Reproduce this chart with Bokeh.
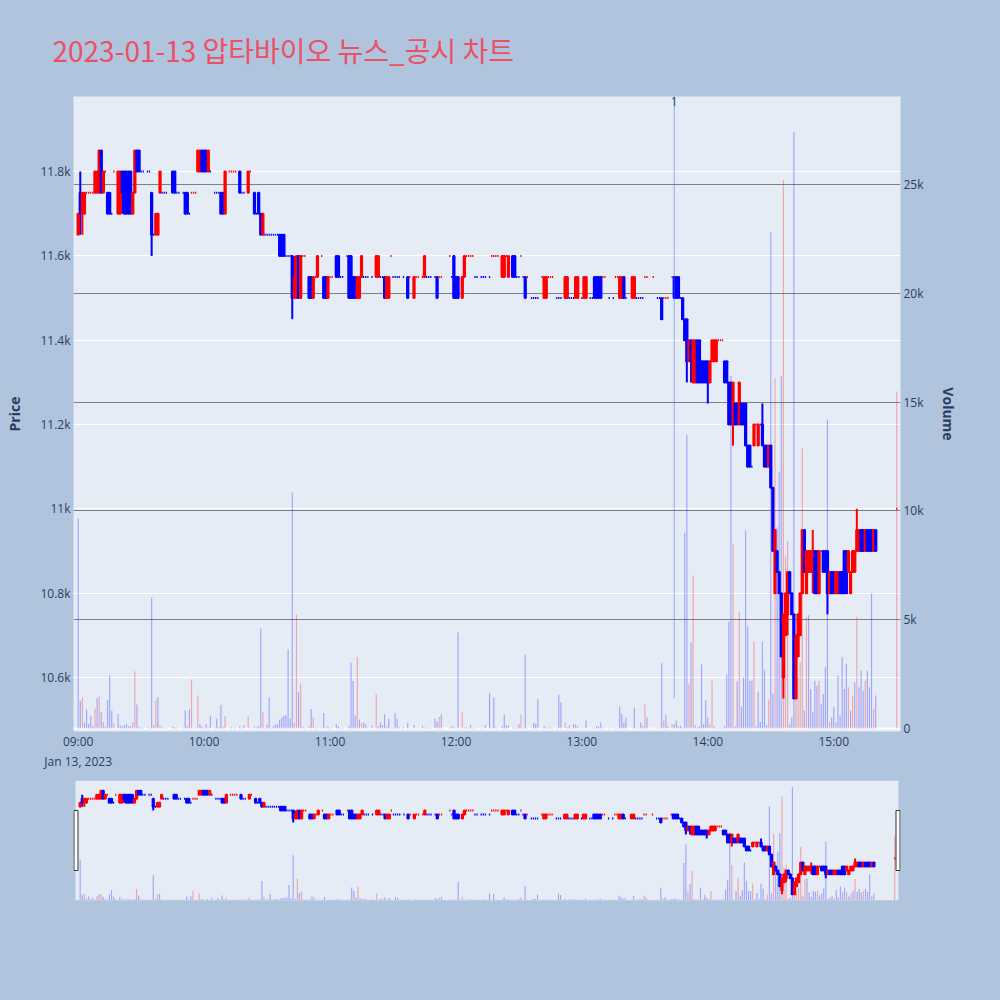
import numpy as np
import pandas as pd
from bokeh.plotting import figure
from bokeh.layouts import column
from bokeh.models import (ColumnDataSource, Range1d, LinearAxis, FixedTicker,
                          Grid, Span, Label)
from bokeh.embed import file_html
from bokeh.resources import INLINE

TITLE = "2023-01-13 압타바이오 뉴스_공시 차트"
SESSION_START = "2023-01-13 09:00"

# one-minute candles, 09:00 .. 15:20 (volume 0 = no trade in that minute)
open_ = [
    11650, 11750, 11700, 11700, 11750, 11750, 11750, 11750, 11750, 11750,
    11750, 11850, 11750, 11800, 11750, 11750, 11700, 11800, 11800, 11700,
    11700, 11800, 11800, 11800, 11800, 11800, 11700, 11750, 11850, 11850,
    11800, 11800, 11800, 11800, 11800, 11750, 11650, 11650, 11650, 11750,
    11750, 11750, 11750, 11750, 11750, 11800, 11800, 11750, 11750, 11750,
    11750, 11750, 11750, 11700, 11750, 11750, 11750, 11800, 11800, 11850,
    11850, 11850, 11800, 11800, 11800, 11750, 11750, 11750, 11750, 11750,
    11700, 11800, 11800, 11800, 11800, 11800, 11800, 11800, 11750, 11750,
    11750, 11750, 11800, 11800, 11750, 11700, 11750, 11700, 11650, 11650,
    11650, 11650, 11650, 11650, 11650, 11650, 11650, 11650, 11650, 11600,
    11600, 11600, 11600, 11500, 11500, 11600, 11500, 11600, 11600, 11600,
    11550, 11550, 11500, 11550, 11550, 11600, 11600, 11550, 11550, 11500,
    11550, 11550, 11550, 11600, 11600, 11550, 11550, 11550, 11600, 11600,
    11600, 11550, 11550, 11500, 11500, 11550, 11550, 11550, 11550, 11550,
    11550, 11550, 11550, 11550, 11550, 11550, 11550, 11500, 11500, 11600,
    11550, 11550, 11550, 11550, 11550, 11550, 11550, 11550, 11550, 11550,
    11500, 11550, 11550, 11550, 11550, 11550, 11550, 11550, 11550, 11550,
    11550, 11550, 11550, 11550, 11550, 11550, 11550, 11600, 11550, 11600,
    11550, 11550, 11500, 11500, 11550, 11600, 11600, 11600, 11600, 11550,
    11550, 11550, 11550, 11550, 11550, 11550, 11550, 11600, 11600, 11600,
    11600, 11600, 11550, 11550, 11600, 11550, 11600, 11600, 11600, 11550,
    11550, 11600, 11550, 11550, 11550, 11550, 11500, 11500, 11500, 11500,
    11500, 11550, 11500, 11500, 11550, 11550, 11550, 11550, 11500, 11500,
    11500, 11500, 11500, 11500, 11500, 11500, 11500, 11500, 11500, 11500,
    11500, 11500, 11500, 11500, 11500, 11500, 11550, 11550, 11550, 11550,
    11550, 11550, 11550, 11500, 11500, 11500, 11550, 11550, 11500, 11500,
    11550, 11500, 11500, 11500, 11500, 11500, 11500, 11500, 11500, 11500,
    11550, 11550, 11550, 11550, 11550, 11550, 11500, 11500, 11500, 11500,
    11500, 11500, 11500, 11550, 11550, 11550, 11550, 11500, 11500, 11450,
    11450, 11350, 11400, 11300, 11300, 11400, 11400, 11350, 11350, 11350,
    11350, 11300, 11350, 11350, 11350, 11400, 11400, 11400, 11350, 11350,
    11300, 11300, 11200, 11250, 11250, 11200, 11250, 11250, 11250, 11150,
    11150, 11100, 11150, 11200, 11150, 11200, 11200, 11150, 11150, 11100,
    11150, 11050, 10800, 10900, 10850, 10800, 10600, 10700, 10750, 10850,
    10800, 10750, 10550, 10650, 10700, 10800, 10950, 10800, 10850, 10850,
    10850, 10900, 10900, 10800, 10900, 10900, 10900, 10900, 10800, 10850,
    10850, 10800, 10800, 10850, 10850, 10900, 10900, 10850, 10800, 10850,
    10850, 10900, 10900, 10950, 10950, 10900, 10950, 10950, 10950, 10900,
    10950,
]
high = [
    11700, 11800, 11750, 11750, 11750, 11750, 11750, 11750, 11800, 11800,
    11850, 11850, 11800, 11800, 11750, 11750, 11700, 11800, 11800, 11800,
    11800, 11800, 11800, 11800, 11800, 11800, 11750, 11850, 11850, 11850,
    11800, 11800, 11800, 11800, 11800, 11750, 11650, 11700, 11700, 11800,
    11750, 11750, 11750, 11750, 11750, 11800, 11800, 11750, 11750, 11750,
    11750, 11750, 11750, 11700, 11750, 11750, 11750, 11850, 11850, 11850,
    11850, 11850, 11850, 11800, 11800, 11750, 11750, 11750, 11750, 11750,
    11800, 11800, 11800, 11800, 11800, 11800, 11800, 11800, 11750, 11750,
    11750, 11800, 11800, 11800, 11750, 11700, 11750, 11700, 11700, 11650,
    11650, 11650, 11650, 11650, 11650, 11650, 11650, 11650, 11650, 11600,
    11600, 11600, 11600, 11600, 11600, 11600, 11600, 11600, 11600, 11600,
    11550, 11550, 11550, 11550, 11600, 11600, 11600, 11550, 11550, 11550,
    11550, 11550, 11550, 11600, 11600, 11550, 11550, 11550, 11600, 11600,
    11600, 11550, 11550, 11550, 11550, 11600, 11550, 11550, 11550, 11550,
    11550, 11550, 11600, 11600, 11550, 11550, 11550, 11550, 11550, 11600,
    11550, 11550, 11550, 11550, 11550, 11550, 11550, 11550, 11550, 11550,
    11550, 11550, 11550, 11550, 11550, 11600, 11550, 11550, 11550, 11550,
    11550, 11550, 11550, 11550, 11550, 11550, 11550, 11600, 11550, 11600,
    11550, 11550, 11500, 11550, 11600, 11600, 11600, 11600, 11600, 11550,
    11550, 11550, 11550, 11550, 11550, 11550, 11550, 11600, 11600, 11600,
    11600, 11600, 11600, 11600, 11600, 11600, 11600, 11600, 11600, 11550,
    11550, 11600, 11550, 11550, 11550, 11550, 11500, 11500, 11500, 11500,
    11500, 11550, 11550, 11550, 11550, 11550, 11550, 11550, 11500, 11500,
    11500, 11500, 11550, 11550, 11500, 11500, 11500, 11550, 11550, 11500,
    11500, 11550, 11550, 11500, 11500, 11500, 11550, 11550, 11550, 11550,
    11550, 11550, 11550, 11500, 11500, 11500, 11550, 11550, 11550, 11550,
    11550, 11500, 11500, 11500, 11550, 11550, 11500, 11500, 11500, 11500,
    11550, 11550, 11550, 11550, 11550, 11550, 11500, 11500, 11500, 11500,
    11500, 11500, 11500, 11550, 11550, 11550, 11550, 11500, 11500, 11450,
    11450, 11400, 11400, 11400, 11400, 11400, 11400, 11350, 11350, 11350,
    11350, 11350, 11400, 11400, 11400, 11400, 11400, 11400, 11350, 11350,
    11300, 11300, 11300, 11250, 11250, 11300, 11250, 11250, 11250, 11150,
    11150, 11100, 11200, 11200, 11200, 11200, 11250, 11150, 11150, 11150,
    11150, 11050, 10950, 10900, 10850, 10800, 10750, 10800, 10850, 10850,
    10800, 10750, 10700, 10750, 10800, 10950, 10950, 10900, 10900, 10900,
    10950, 10900, 10900, 10900, 10900, 10900, 10900, 10900, 10850, 10850,
    10850, 10850, 10850, 10850, 10850, 10900, 10900, 10900, 10850, 10900,
    10900, 11000, 10950, 10950, 10950, 10950, 10950, 10950, 10950, 10950,
    10950,
]
low = [
    11650, 11650, 11650, 11700, 11750, 11750, 11750, 11750, 11750, 11750,
    11750, 11750, 11750, 11800, 11700, 11700, 11700, 11800, 11800, 11700,
    11700, 11700, 11700, 11700, 11700, 11700, 11700, 11750, 11800, 11800,
    11800, 11800, 11800, 11800, 11800, 11600, 11650, 11650, 11650, 11750,
    11750, 11750, 11750, 11750, 11750, 11750, 11750, 11750, 11750, 11750,
    11750, 11700, 11700, 11700, 11750, 11750, 11750, 11800, 11800, 11800,
    11800, 11800, 11800, 11800, 11800, 11750, 11750, 11750, 11700, 11700,
    11700, 11800, 11800, 11800, 11800, 11800, 11800, 11750, 11750, 11750,
    11750, 11750, 11800, 11800, 11700, 11700, 11700, 11650, 11650, 11650,
    11650, 11650, 11650, 11650, 11650, 11650, 11600, 11600, 11600, 11600,
    11600, 11600, 11450, 11500, 11500, 11500, 11500, 11600, 11600, 11600,
    11500, 11500, 11500, 11550, 11550, 11600, 11600, 11500, 11500, 11500,
    11550, 11550, 11550, 11550, 11550, 11550, 11550, 11550, 11600, 11500,
    11500, 11500, 11500, 11500, 11500, 11550, 11550, 11550, 11550, 11550,
    11550, 11550, 11550, 11550, 11550, 11550, 11500, 11500, 11500, 11600,
    11550, 11550, 11550, 11550, 11550, 11550, 11550, 11500, 11550, 11550,
    11500, 11550, 11550, 11550, 11550, 11550, 11550, 11550, 11550, 11550,
    11550, 11500, 11550, 11550, 11550, 11550, 11550, 11600, 11550, 11500,
    11500, 11500, 11500, 11500, 11550, 11600, 11600, 11600, 11600, 11550,
    11550, 11550, 11550, 11550, 11550, 11550, 11550, 11600, 11600, 11600,
    11600, 11600, 11550, 11550, 11600, 11550, 11600, 11550, 11550, 11550,
    11550, 11600, 11550, 11500, 11550, 11550, 11500, 11500, 11500, 11500,
    11500, 11550, 11500, 11500, 11550, 11550, 11550, 11550, 11500, 11500,
    11500, 11500, 11500, 11500, 11500, 11500, 11500, 11500, 11500, 11500,
    11500, 11500, 11500, 11500, 11500, 11500, 11500, 11500, 11500, 11500,
    11550, 11550, 11550, 11500, 11500, 11500, 11550, 11550, 11500, 11500,
    11500, 11500, 11500, 11500, 11500, 11500, 11500, 11500, 11500, 11500,
    11550, 11550, 11550, 11550, 11550, 11550, 11500, 11500, 11450, 11500,
    11500, 11500, 11500, 11550, 11500, 11500, 11500, 11500, 11450, 11400,
    11300, 11350, 11300, 11300, 11300, 11300, 11300, 11300, 11300, 11300,
    11250, 11300, 11350, 11350, 11350, 11400, 11400, 11400, 11300, 11300,
    11200, 11200, 11150, 11200, 11200, 11200, 11200, 11200, 11150, 11100,
    11100, 11100, 11150, 11200, 11150, 11200, 11150, 11100, 11100, 11100,
    11050, 10900, 10800, 10850, 10800, 10650, 10550, 10700, 10700, 10800,
    10750, 10550, 10550, 10650, 10700, 10800, 10850, 10800, 10850, 10850,
    10800, 10800, 10800, 10800, 10900, 10850, 10850, 10750, 10800, 10800,
    10800, 10800, 10800, 10800, 10800, 10800, 10800, 10850, 10800, 10850,
    10850, 10900, 10900, 10900, 10900, 10900, 10900, 10900, 10900, 10900,
    10900,
]
close = [
    11700, 11700, 11750, 11750, 11750, 11750, 11750, 11750, 11800, 11800,
    11850, 11750, 11800, 11800, 11700, 11700, 11700, 11800, 11800, 11800,
    11800, 11750, 11700, 11700, 11700, 11700, 11750, 11850, 11800, 11800,
    11800, 11800, 11800, 11800, 11800, 11650, 11650, 11700, 11700, 11800,
    11750, 11750, 11750, 11750, 11750, 11750, 11750, 11750, 11750, 11750,
    11750, 11700, 11700, 11700, 11750, 11750, 11750, 11850, 11850, 11800,
    11800, 11800, 11850, 11800, 11800, 11750, 11750, 11750, 11700, 11700,
    11800, 11800, 11800, 11800, 11800, 11800, 11800, 11750, 11750, 11750,
    11750, 11800, 11800, 11800, 11700, 11700, 11700, 11650, 11700, 11650,
    11650, 11650, 11650, 11650, 11650, 11650, 11600, 11600, 11600, 11600,
    11600, 11600, 11500, 11550, 11600, 11500, 11600, 11600, 11600, 11600,
    11500, 11500, 11550, 11550, 11600, 11600, 11600, 11500, 11500, 11550,
    11550, 11550, 11550, 11550, 11550, 11550, 11550, 11550, 11600, 11500,
    11500, 11500, 11500, 11550, 11550, 11600, 11550, 11550, 11550, 11550,
    11550, 11550, 11600, 11600, 11550, 11550, 11500, 11550, 11550, 11600,
    11550, 11550, 11550, 11550, 11550, 11550, 11550, 11500, 11550, 11550,
    11550, 11550, 11550, 11550, 11550, 11600, 11550, 11550, 11550, 11550,
    11550, 11500, 11550, 11550, 11550, 11550, 11550, 11600, 11550, 11500,
    11500, 11500, 11500, 11550, 11600, 11600, 11600, 11600, 11600, 11550,
    11550, 11550, 11550, 11550, 11550, 11550, 11550, 11600, 11600, 11600,
    11600, 11600, 11600, 11600, 11600, 11600, 11600, 11550, 11550, 11550,
    11550, 11600, 11550, 11500, 11550, 11550, 11500, 11500, 11500, 11500,
    11500, 11550, 11550, 11550, 11550, 11550, 11550, 11550, 11500, 11500,
    11500, 11500, 11550, 11550, 11500, 11500, 11500, 11550, 11550, 11500,
    11500, 11550, 11550, 11500, 11500, 11500, 11500, 11500, 11500, 11500,
    11550, 11550, 11550, 11500, 11500, 11500, 11550, 11550, 11550, 11550,
    11500, 11500, 11500, 11500, 11550, 11550, 11500, 11500, 11500, 11500,
    11550, 11550, 11550, 11550, 11550, 11550, 11500, 11500, 11450, 11500,
    11500, 11500, 11500, 11550, 11500, 11500, 11500, 11500, 11450, 11400,
    11350, 11400, 11350, 11400, 11400, 11300, 11300, 11300, 11300, 11300,
    11300, 11350, 11400, 11400, 11400, 11400, 11400, 11400, 11300, 11300,
    11200, 11200, 11300, 11200, 11200, 11300, 11200, 11200, 11150, 11100,
    11100, 11100, 11200, 11200, 11200, 11200, 11150, 11100, 11100, 11150,
    11050, 10900, 10950, 10850, 10800, 10650, 10750, 10800, 10850, 10800,
    10750, 10550, 10700, 10750, 10800, 10950, 10850, 10900, 10900, 10900,
    10900, 10800, 10800, 10900, 10900, 10850, 10850, 10800, 10850, 10800,
    10800, 10850, 10850, 10800, 10800, 10800, 10800, 10900, 10850, 10900,
    10900, 10950, 10950, 10900, 10900, 10950, 10900, 10900, 10900, 10950,
    10900,
]
volume = [
    9650, 1290, 1425, 280, 870, 210, 560, 120, 910, 1390,
    1470, 750, 300, 100, 1310, 2430, 830, 240, 0, 680,
    150, 100, 150, 220, 100, 100, 300, 2630, 1100, 80,
    50, 40, 0, 60, 30, 6020, 150, 1290, 1440, 140,
    60, 40, 40, 0, 0, 80, 60, 40, 30, 0,
    50, 830, 100, 890, 2250, 40, 50, 1520, 200, 100,
    40, 200, 50, 560, 0, 50, 460, 60, 1090, 80,
    560, 0, 40, 60, 30, 40, 0, 100, 30, 160,
    0, 580, 50, 0, 100, 60, 120, 4590, 750, 30,
    170, 1440, 40, 100, 200, 180, 400, 500, 600, 600,
    3630, 450, 10850, 260, 5240, 1680, 2070, 80, 40, 0,
    100, 900, 530, 30, 60, 0, 50, 710, 60, 100,
    30, 30, 0, 200, 100, 30, 40, 0, 30, 100,
    3030, 2180, 600, 3280, 400, 250, 280, 180, 60, 0,
    140, 0, 1580, 100, 280, 160, 640, 100, 450, 30,
    40, 720, 450, 60, 0, 60, 0, 250, 30, 0,
    160, 30, 30, 0, 120, 60, 30, 30, 30, 0,
    450, 310, 530, 650, 0, 0, 0, 30, 100, 60,
    30, 4410, 0, 750, 40, 60, 30, 160, 30, 30,
    30, 0, 30, 30, 160, 0, 1620, 60, 1420, 60,
    30, 0, 100, 640, 150, 130, 0, 50, 30, 30,
    200, 640, 30, 3400, 30, 0, 30, 250, 220, 1340,
    0, 30, 100, 60, 30, 60, 30, 0, 30, 1550,
    1210, 0, 280, 60, 140, 30, 200, 200, 100, 0,
    30, 60, 370, 0, 30, 30, 30, 100, 100, 280,
    60, 30, 0, 30, 0, 30, 30, 30, 1010, 680,
    270, 490, 0, 0, 60, 970, 30, 30, 280, 120,
    1100, 520, 0, 0, 30, 0, 30, 30, 3000, 370,
    630, 100, 0, 200, 200, 370, 100, 120, 50, 9000,
    13500, 2070, 3950, 7030, 150, 60, 100, 2940, 200, 1290,
    500, 200, 2200, 100, 30, 30, 30, 30, 100, 2480,
    4900, 16200, 8500, 100, 2160, 5340, 1000, 2340, 9100, 4690,
    2200, 2200, 4000, 100, 1700, 300, 4000, 2700, 150, 1330,
    22800, 1600, 16100, 9240, 11800, 16200, 25200, 7900, 8600, 200,
    500, 27400, 1600, 2340, 3050, 12870, 830, 5120, 5200, 1820,
    750, 2200, 1980, 2200, 1130, 1590, 2820, 14200, 300, 520,
    975, 290, 2430, 600, 3280, 1820, 2970, 1900, 830, 1520,
    2130, 5120, 1900, 2670, 1750, 2200, 2670, 1900, 6200, 900,
    1520,
]

# closing single-price auction
auction_time = "2023-01-13 15:30"
auction_price = 11000
auction_volume = 15490

# disclosure marker
news_time = "2023-01-13 13:44"
news_text = "1"
news_anchor_volume = 1400

price_ticks = [10600, 10800, 11000, 11200, 11400, 11600, 11800]
price_tick_labels = ["10.6k", "10.8k", "11k", "11.2k", "11.4k", "11.6k", "11.8k"]
volume_ticks = [0, 5000, 10000, 15000, 20000, 25000]
volume_tick_labels = ["0", "5k", "10k", "15k", "20k", "25k"]
hour_labels = ["09:00\nJan 13, 2023", "10:00", "11:00", "12:00", "13:00", "14:00", "15:00"]

# view ranges (minutes after 09:00 / won / shares)
X_VIEW = (-2.23, 391.8)
PRICE_VIEW = (10472, 11978)
VOLUME_VIEW = (-138, 29044)

UP, DOWN = "#FF0000", "#0000FF"
PAGE_BG, PLOT_BG = "#B0C4DE", "#E5ECF6"
INK = "#2a3f5f"

n = len(open_)
assert all(len(a) == n for a in (high, low, close, volume))

t0 = pd.Timestamp(SESSION_START)
times = list(pd.date_range(SESSION_START, periods=n, freq="min")) + [pd.Timestamp(auction_time)]
df = pd.DataFrame({
    "time": times,
    "open": open_ + [auction_price],
    "high": high + [auction_price],
    "low": low + [auction_price],
    "close": close + [auction_price],
    "volume": volume + [auction_volume],
})
df = df[df["volume"] > 0].reset_index(drop=True)
df["x"] = (df["time"] - t0).dt.total_seconds() / 60.0

# candle direction: body first, then previous close, then previous direction
dirs = []
prev_c, prev_d = None, 1
for o, c in zip(df["open"], df["close"]):
    if c > o:
        d = 1
    elif c < o:
        d = -1
    elif prev_c is not None and c != prev_c:
        d = 1 if c > prev_c else -1
    else:
        d = prev_d
    dirs.append(d)
    prev_c, prev_d = c, d
df["color"] = [UP if d > 0 else DOWN for d in dirs]
df["vcolor"] = np.where(df["close"].diff() > 0, UP, DOWN)
df["body_top"] = df[["open", "close"]].max(axis=1)
df["body_bottom"] = df[["open", "close"]].min(axis=1)

source = ColumnDataSource(df)


def draw_market(fig):
    fig.segment(x0="x", y0="low", x1="x", y1="high", line_color="color",
                line_width=2, source=source)
    fig.vbar(x="x", width=0.6, top="body_top", bottom="body_bottom",
             fill_color="color", line_color="color", line_width=2, source=source)
    fig.vbar(x="x", width=0.55, top="volume", bottom=0, y_range_name="vol",
             fill_color="vcolor", fill_alpha=0.3, line_color=None, source=source)


# ---------------- main chart ----------------
MAIN_H = 777
p = figure(width=1000, height=MAIN_H, output_backend="svg", toolbar_location=None,
           x_range=Range1d(*X_VIEW), y_range=Range1d(*PRICE_VIEW),
           min_border_left=72, min_border_right=99, min_border_top=96,
           min_border_bottom=MAIN_H - 731, background_fill_color=PLOT_BG,
           border_fill_color=PAGE_BG, outline_line_color=None)
p.extra_y_ranges = {"vol": Range1d(*VOLUME_VIEW)}

p.title.text = TITLE
p.title.text_font = "Noto Sans CJK KR"
p.title.text_font_size = "28px"
p.title.text_font_style = "normal"
p.title.text_color = "#EC5064"
p.title.offset = -21
p.title.standoff = 54

hour_ticks = [60 * i for i in range(len(hour_labels))]
p.xaxis.ticker = FixedTicker(ticks=hour_ticks)
p.xaxis.major_label_overrides = dict(zip(hour_ticks, hour_labels))
p.yaxis.ticker = FixedTicker(ticks=price_ticks)
p.yaxis.major_label_overrides = dict(zip(price_ticks, price_tick_labels))
p.yaxis.axis_label = "Price"

vax = LinearAxis(y_range_name="vol", ticker=FixedTicker(ticks=volume_ticks),
                 major_label_overrides=dict(zip(volume_ticks, volume_tick_labels)),
                 axis_label="Volume")
p.add_layout(vax, "right")

for ax in p.axis:
    ax.axis_line_color = None
    ax.major_tick_line_color = None
    ax.minor_tick_line_color = None
    ax.major_tick_out = 0
    ax.major_tick_in = 0
    ax.minor_tick_out = 0
    ax.minor_tick_in = 0
    ax.major_label_text_font = "Open Sans"
    ax.major_label_text_font_size = "12px"
    ax.major_label_text_color = INK
    ax.major_label_standoff = 3
    ax.axis_label_text_font = "Open Sans"
    ax.axis_label_text_font_size = "14px"
    ax.axis_label_text_font_style = "bold"
    ax.axis_label_text_color = INK
p.xaxis.major_label_standoff = 1
p.yaxis.axis_label_standoff = 13
vax.axis_label_standoff = 12

p.xgrid.visible = False
p.ygrid.ticker = FixedTicker(ticks=price_ticks)
p.ygrid.grid_line_color = "white"
p.ygrid.grid_line_width = 1
p.add_layout(Grid(dimension=1, ticker=FixedTicker(ticks=volume_ticks[1:]),
                  y_range_name="vol", grid_line_color="#808080",
                  grid_line_width=1))
p.add_layout(Span(location=0, dimension="width", y_range_name="vol",
                  line_color="white", line_width=2, level="underlay"))

draw_market(p)

news_x = (pd.Timestamp(news_time) - t0).total_seconds() / 60.0
p.segment(x0=[news_x], y0=[news_anchor_volume], x1=[news_x], y1=[VOLUME_VIEW[1]],
          y_range_name="vol", line_color="royalblue", line_alpha=0.5, line_width=1)
p.add_layout(Label(x=news_x, y=VOLUME_VIEW[1] - 230, y_range_name="vol",
                   text=news_text, text_align="center", text_baseline="alphabetic",
                   text_font="Open Sans", text_font_size="12px", text_color=INK))

# ---------------- range slider ----------------
MINI_PAD = 0.96
mini = figure(width=1000, height=1000 - MAIN_H, output_backend="svg",
              toolbar_location=None,
              x_range=Range1d(X_VIEW[0] - MINI_PAD, X_VIEW[1] + MINI_PAD),
              y_range=Range1d(*PRICE_VIEW), x_axis_location=None,
              y_axis_location=None, min_border_left=73, min_border_right=100,
              min_border_top=780 - MAIN_H, min_border_bottom=100,
              background_fill_color=PAGE_BG, border_fill_color=PAGE_BG,
              outline_line_color=None)
mini.extra_y_ranges = {"vol": Range1d(*VOLUME_VIEW), "ui": Range1d(0, 1)}
mini.grid.visible = False
mini.quad(left=[X_VIEW[0]], right=[X_VIEW[1]], bottom=[PRICE_VIEW[0]],
          top=[PRICE_VIEW[1]], fill_color=PLOT_BG, line_color=None)
draw_market(mini)
mini.quad(left=[X_VIEW[0] - 0.72, X_VIEW[1] - 1.2],
          right=[X_VIEW[0] + 1.2, X_VIEW[1] + 0.72],
          bottom=[0.25, 0.25], top=[0.75, 0.75], y_range_name="ui",
          fill_color="white", line_color="#333333", line_width=1)

layout = column(p, mini, spacing=0, styles={"background-color": PAGE_BG})
html = file_html(layout, INLINE, title=TITLE)
html = html.replace("<body>", '<body style="margin:0;background-color:%s;">' % PAGE_BG, 1)
with open("out.html", "w", encoding="utf-8") as f:
    f.write(html)
